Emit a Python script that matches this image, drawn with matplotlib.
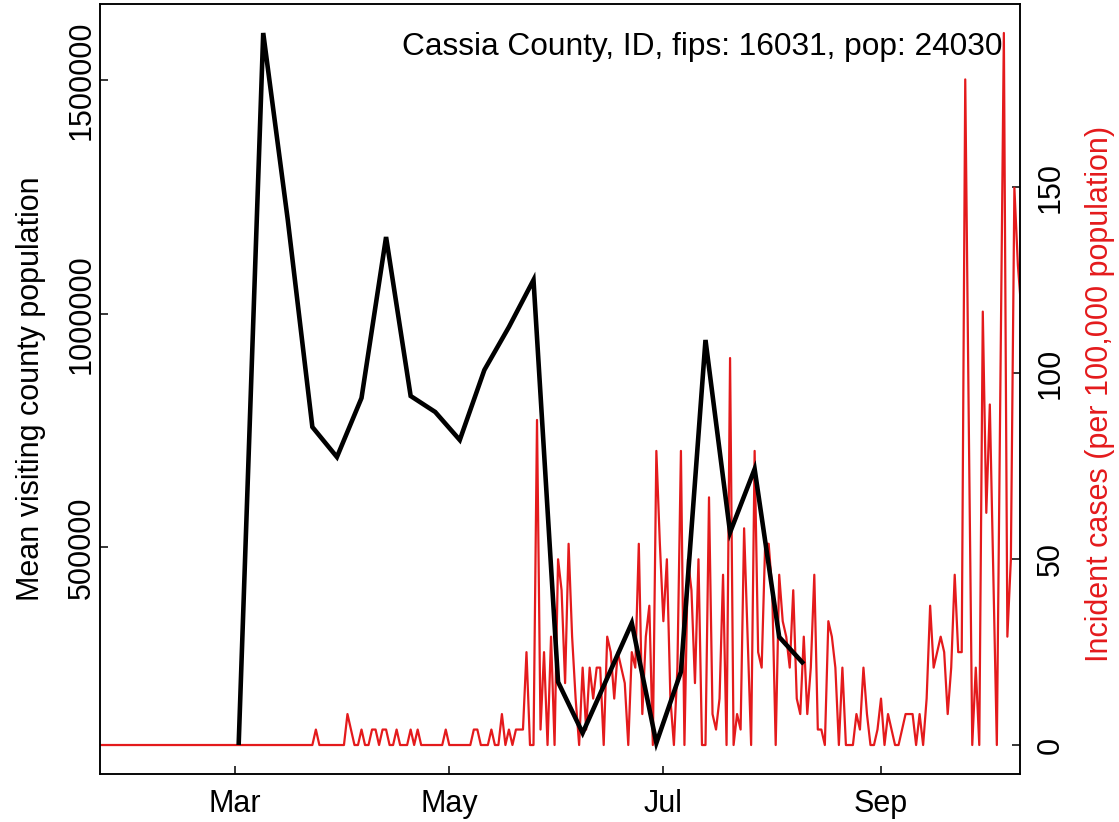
import numpy as np
import matplotlib
matplotlib.use("Agg")
import matplotlib.pyplot as plt
import matplotlib.dates as mdates

plt.rcParams['font.family'] = ['Liberation Sans', 'DejaVu Sans']

# ---- data ----
county_label = "Cassia County, ID, fips: 16031, pop: 24030"
population = 24030

# daily incident case counts starting 2020-01-22
case_start = "2020-01-22"
case_counts = (
    [0] * 62 +
    [1, 0, 0, 0, 0, 0, 0, 0, 0, 2, 1, 0, 0, 1, 0, 0, 1, 1, 0, 1,
     1, 0, 0, 1, 0, 0, 0, 1, 0, 1, 0, 0, 0, 0, 0, 0, 0, 1, 0, 0,
     0, 0, 0, 0, 0, 1, 1, 0, 0, 0, 1, 0, 0, 2, 0, 1, 0, 1, 1, 1,
     6, 0, 0, 21, 1, 6, 0, 7, 0, 12, 10, 4, 13, 7, 3, 0, 5, 1, 5, 3,
     5, 5, 0, 7, 6, 3, 6, 5, 4, 0, 6, 5, 13, 2, 7, 9, 0, 19, 13, 8,
     12, 3, 0, 5, 19, 0, 12, 10, 4, 12, 0, 0, 16, 2, 1, 3, 11, 0, 25, 0,
     2, 1, 14, 7, 0, 19, 6, 5, 13, 13, 10, 0, 11, 8, 7, 5, 10, 3, 2, 7,
     2, 5, 11, 1, 1, 0, 8, 7, 5, 0, 5, 0, 0, 0, 2, 1, 5, 2, 0, 0,
     1, 3, 0, 2, 1, 0, 0, 1, 2, 2, 2, 0, 2, 0, 3, 9, 5, 6, 7, 6,
     2, 5, 11, 6, 6, 43, 21, 0, 5, 0, 28, 15, 22, 11, 0, 23, 46, 7, 12, 36,
     31, 28]
)

# weekly mean visiting population (weeks starting 2020-03-02)
visit_start = "2020-03-02"
visit_values = [77600, 1600300, 1200400, 757700, 693500, 819700, 1164000,
                824000, 789800, 729900, 879600, 971600, 1072100, 212400,
                103300, 220900, 338500, 81900, 234100, 943800, 532200,
                667900, 308600, 250900]

left_ticks = [500000, 1000000, 1500000]
right_ticks = [0, 50, 100, 150]

# ---- derived ----
case_dates = np.datetime64(case_start) + np.arange(len(case_counts))
case_rate = np.array(case_counts) * 100000.0 / population
visit_dates = np.datetime64(visit_start) + 7 * np.arange(len(visit_values))
visit_values = np.array(visit_values, dtype=float)

RED = '#E41A1C'
FS = 22

W, H = 1119, 822
fig = plt.figure(figsize=(W / 100, H / 100), dpi=100)
ax = fig.add_axes([100 / W, (H - 773.5) / H, 920 / W, 769 / H])

ax.plot(visit_dates, visit_values, color='black', lw=3.3, solid_joinstyle='miter',
        solid_capstyle='butt', zorder=3)
lo, hi = visit_values.min(), visit_values.max()
ax.set_ylim(lo - 0.04 * (hi - lo), hi + 0.04 * (hi - lo))
ax.set_yticks(left_ticks)
ax.set_yticklabels([str(t) for t in left_ticks], rotation=90, va='center', ha='center')

ax2 = ax.twinx()
ax2.plot(case_dates, case_rate, color=RED, lw=1.6, zorder=2)
rlo, rhi = 0.0, case_rate.max()
ax2.set_ylim(rlo - 0.04 * (rhi - rlo), rhi + 0.04 * (rhi - rlo))
ax2.set_yticks(right_ticks)
ax2.set_yticklabels([str(t) for t in right_ticks], rotation=90, va='center', ha='center')

x0 = mdates.date2num(np.datetime64(case_start))
ax.set_xlim(x0 + 0.5, x0 + 262.6)
ax.xaxis.set_major_locator(mdates.MonthLocator(bymonth=[3, 5, 7, 9]))
ax.xaxis.set_major_formatter(mdates.DateFormatter('%b'))

for a in (ax, ax2):
    for s in a.spines.values():
        s.set_linewidth(1.1)
        s.set_color('black')
ax.tick_params(axis='both', direction='in', length=6, width=1.1, labelsize=FS, color='black')
ax.tick_params(axis='x', pad=11)
ax.tick_params(axis='y', pad=13)
ax2.tick_params(axis='y', direction='in', length=6, width=1.1, labelsize=FS, pad=22)
ax2.set_xlim(ax.get_xlim())

fig.text(31 / W, 1 - 389 / H, "Mean visiting county population", rotation=90,
         ha='center', va='center', fontsize=FS)
fig.text(1100 / W, 1 - 394 / H, "Incident cases (per 100,000 population)", rotation=90,
         ha='center', va='center', fontsize=FS, color=RED)
ax.text(0.9815, 0.945, county_label, transform=ax.transAxes, ha='right', va='center',
        fontsize=22.8, zorder=5)

ax.set_zorder(ax2.get_zorder() + 1)
ax.patch.set_visible(False)

fig.savefig("out.png", dpi=100)
